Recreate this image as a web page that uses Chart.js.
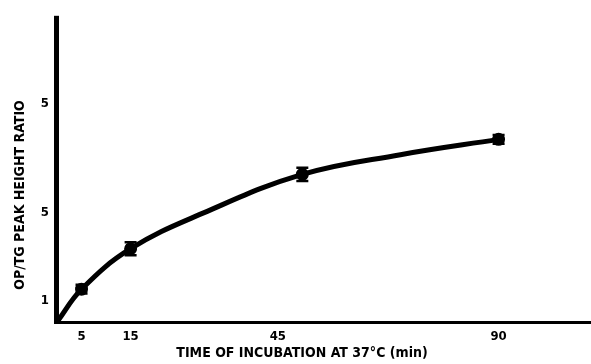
<!DOCTYPE html>
<html><head><meta charset="utf-8">
<script src="https://cdn.jsdelivr.net/npm/chart.js@4"></script>
<style>html,body{margin:0;padding:0;background:#fff}#w{width:591px;height:364px}</style>
</head><body><div id="w"><canvas id="c"></canvas></div>
<script>
const times = [0, 5, 15, 30, 50, 70, 90];
const ratios = [0, 0.15, 0.335, 0.50, 0.675, 0.765, 0.835];
const measured = [false, true, true, false, true, false, true];
const errors = [0, 0.02, 0.03, 0, 0.03, 0, 0.02];
const xTicks = [5, 15, 45, 90];
const yTicks = [0.1, 0.5, 1.0];
const yTickLabels = {0.1: '1', 0.5: '5', 1: '5'};
const xTitle = 'TIME OF INCUBATION AT 37°C (min)';
const yTitle = 'OP/TG PEAK HEIGHT RATIO';

const FONT = '"DejaVu Sans Condensed", "DejaVu Sans", sans-serif';

const errPlugin = {
  id: 'err',
  afterDatasetsDraw(chart) {
    const ctx = chart.ctx, xs = chart.scales.x, ys = chart.scales.y;
    ctx.save(); ctx.strokeStyle = '#000'; ctx.lineWidth = 2.5;
    times.forEach((t, i) => {
      if (!measured[i] || !errors[i]) return;
      const x = xs.getPixelForValue(t);
      const y1 = ys.getPixelForValue(ratios[i] + errors[i]);
      const y2 = ys.getPixelForValue(ratios[i] - errors[i]);
      ctx.beginPath();
      ctx.moveTo(x, y1); ctx.lineTo(x, y2);
      ctx.moveTo(x - 6, y1); ctx.lineTo(x + 6, y1);
      ctx.moveTo(x - 6, y2); ctx.lineTo(x + 6, y2);
      ctx.stroke();
    });
    ctx.restore();
  }
};

const axesPlugin = {
  id: 'axesDraw',
  afterDraw(chart) {
    const ctx = chart.ctx, a = chart.chartArea;
    ctx.save(); ctx.fillStyle = '#000';
    ctx.fillRect(a.left - 3, a.top, 5, a.bottom - a.top + 2);
    ctx.fillRect(a.left - 3, a.bottom - 1, chart.width - a.left + 3, 3);
    ctx.font = 'bold 14px ' + FONT;
    ctx.textAlign = 'center'; ctx.textBaseline = 'middle';
    ctx.fillText(xTitle, 302, 353);
    ctx.translate(20, 195); ctx.rotate(-Math.PI / 2);
    ctx.fillText(yTitle, 0, 0);
    ctx.restore();
  }
};

new Chart(document.getElementById('c'), {
  type: 'line',
  data: {
    datasets: [{
      data: times.map((t, i) => ({x: t, y: ratios[i]})),
      borderColor: '#000', backgroundColor: '#000',
      borderWidth: 5,
      tension: 0.4,
      pointRadius: measured.map(m => m ? 4 : 0),
      pointHoverRadius: 0
    }]
  },
  options: {
    responsive: true, maintainAspectRatio: false, animation: false,
    layout: {padding: {top: 8, right: 0, left: 0, bottom: 0}},
    plugins: {legend: {display: false}, tooltip: {enabled: false}},
    scales: {
      x: {
        type: 'linear', min: 0, max: 107,
        grid: {display: false, drawTicks: false},
        border: {display: false},
        afterBuildTicks: s => { s.ticks = xTicks.map(v => ({value: v})); },
        afterFit: s => { s.height = 42; },
        ticks: {color: '#000', padding: 7, font: {family: FONT, size: 13, weight: 'bold'}, maxRotation: 0, autoSkip: false},
        title: {display: false}
      },
      y: {
        type: 'linear', min: 0, max: 1.4,
        grid: {display: false, drawTicks: false},
        border: {display: false},
        afterBuildTicks: s => { s.ticks = yTicks.map(v => ({value: v})); },
        afterFit: s => { s.width = 57; },
        ticks: {color: '#000', padding: 8, font: {family: FONT, size: 13, weight: 'bold'}, autoSkip: false,
          callback: v => yTickLabels[v] ?? ''},
        title: {display: false}
      }
    }
  },
  plugins: [errPlugin, axesPlugin]
});
</script></body></html>
